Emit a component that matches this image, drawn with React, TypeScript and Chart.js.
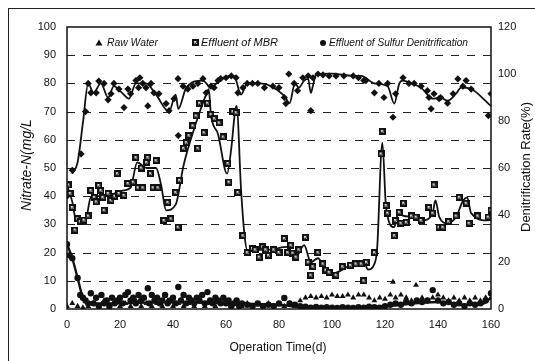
import React, { useEffect, useRef } from "react";
import { Chart, registerables } from "chart.js";

Chart.register(...registerables);

// ---------- data (day, value) ----------
const xTickValues = [0, 20, 40, 60, 80, 100, 120, 140, 160];
const gridValues = [10, 20, 30, 40, 50, 60, 70, 80, 90];

const rawWater: [number, number][] = [
  [0, 1], [2, 2], [4, 1], [6, 0.5], [8, 1], [10, 2], [12, 1], [14, 3], [16, 1], [18, 2], [20, 1], [22, 2],
  [24, 1], [26, 3], [28, 1], [30, 2], [32, 1], [34, 2], [36, 1], [38, 3], [40, 1], [42, 2], [44, 1], [46, 2],
  [48, 1], [50, 3], [52, 1], [54, 2], [56, 1], [58, 2], [60, 3], [62, 1], [64, 2], [66, 1], [68, 2], [70, 1],
  [72, 1.5], [74, 1], [76, 2], [78, 1], [80, 1.5], [82, 1], [84, 2], [86, 1], [88, 3], [90, 4], [92, 4.5],
  [94, 4], [96, 4.5], [98, 4], [100, 5], [102, 4.5], [104, 4.5], [106, 5], [108, 4], [110, 5], [112, 5],
  [114, 4], [116, 3], [118, 4], [120, 3.5], [122, 5], [123, 9.6], [124, 4], [126, 5], [128, 4], [130, 3],
  [131.7, 8.5], [134, 4], [136, 3], [138, 4], [140, 5], [142, 4], [144, 3], [146, 4], [148, 3], [150, 4],
  [152, 3], [154, 4], [156, 3], [158, 4], [160, 4],
];

const mbrEffluent: [number, number][] = [
  [0.5, 44], [1.2, 41], [2, 36], [3, 28], [4, 32], [5, 31], [6.4, 31.5], [8, 33], [9, 42], [10.3, 39.6],
  [11, 38], [12, 43.8], [12.8, 42], [13.5, 39.6], [14, 35], [15.5, 41], [16.6, 38.5], [18, 40], [19, 48],
  [19.6, 41], [21.5, 40.3], [23, 44.5], [25, 45], [26, 53.7], [26.8, 43], [28, 50], [28.6, 43], [30, 52],
  [30.5, 53.7], [31.5, 48], [32.5, 43], [33.6, 52.6], [34.3, 43], [36.6, 31.4], [38, 37.8], [39.2, 32],
  [41, 41.3], [41.9, 29], [42.5, 45.6], [44, 57], [45, 59], [46, 61.5], [47.5, 65], [48.7, 68.5],
  [49.4, 57], [50, 73], [51.7, 62.5], [53, 73], [54.3, 69], [55.6, 67.5], [57.4, 66], [58.9, 61],
  [60.7, 51.6], [61.1, 45], [62.6, 70], [63.8, 69.6], [64.5, 41.3], [66.4, 26], [68, 20], [70, 21.5],
  [71, 21], [72.5, 18.4], [73.8, 22], [75, 21], [76, 19], [78, 21], [80, 20], [82, 25], [83.3, 20],
  [84.5, 22.6], [85.2, 19.8], [86.4, 18.4], [87.5, 21], [90, 25.4], [91, 16.6], [92, 12], [92.8, 15],
  [94.7, 20], [96.6, 16], [97.7, 13.8], [98.9, 13], [101.5, 12], [104, 15], [107, 15.5], [109, 16],
  [111, 16], [112, 10], [113, 16.6], [116, 20], [118.5, 55], [119, 63], [120.4, 36.7], [121, 34],
  [123.5, 26], [124, 31.4], [125.4, 34.3], [126, 30.4], [127, 37.5], [128, 30.7], [130, 33], [131.7, 32.6],
  [133.6, 31.4], [136.6, 36], [138, 34], [138.5, 44], [140.4, 29], [141.8, 29], [144, 31], [146.8, 33],
  [148, 39.6], [150.6, 37.5], [151.7, 30.4], [155, 33], [158.9, 32.6], [160, 35],
];

const mbrTrend: [number, number][] = [
  [0, 44], [2, 38], [3.4, 31.4], [5, 31], [7, 31.5], [9, 39.6], [12, 40], [15, 40], [18, 41], [21, 42],
  [24, 43], [26.5, 52], [30, 50], [33.6, 50], [35.5, 44], [37.4, 35], [41, 37], [44, 51], [47, 61],
  [50.5, 71], [52.5, 76], [53.5, 78], [54.3, 69], [57, 62], [60.4, 48], [62, 57], [63.4, 70], [64, 72],
  [65.7, 42], [67, 26], [68, 21], [73, 21], [76, 21], [83, 22], [86, 18], [89.5, 22.6], [92, 16.6],
  [94.7, 18], [97, 15], [100.7, 12.7], [106, 15], [112, 16.6], [113.6, 14], [116, 16], [117, 21], [119, 59],
  [120.4, 36], [123.5, 29], [125, 34], [127, 33], [131, 32.6], [134, 31.4], [138, 34], [139, 38.5],
  [140.5, 32.6], [143.6, 30.4], [146.8, 32.6], [149.5, 38.5], [151, 39.6], [152.5, 34], [159, 31.4], [160, 35],
];

const sulfurEffluent: [number, number][] = [
  [0, 23], [1, 19], [2, 18], [4, 11], [5, 5], [6, 4], [7, 3], [8, 2], [9, 5.6], [10, 2], [11, 4], [12, 1],
  [13, 5], [14, 2], [15, 3], [16, 1], [17, 4], [18, 2], [19, 3], [20, 4], [21, 2], [22, 5], [23, 6], [24, 3],
  [25, 4], [26, 2], [27, 5], [28, 3], [29, 4], [30.5, 7.4], [31, 2], [32, 5], [33, 3], [34, 4], [35, 2],
  [36, 3], [37, 5], [38, 2], [39, 3], [40, 4], [41, 2], [42, 7.8], [43, 3], [44, 5], [45, 2], [46, 4],
  [47, 3], [48, 2], [49, 4], [50, 3], [51, 5], [52, 2], [53, 6], [54, 3], [55, 2], [56, 4], [57, 3],
  [58, 2], [59, 4], [60, 2], [61, 3], [62, 1], [63, 2], [64, 3], [65, 1], [66, 2], [68, 1.5], [70, 1],
  [72, 2], [74, 1], [76, 1.5], [78, 1], [80, 2], [82, 3.9], [84, 2], [86, 1.5], [88, 1], [90, 0.8],
  [92, 0.5], [94, 0.7], [96, 0.5], [98, 0.6], [100, 0.5], [102, 0.4], [104, 0.6], [106, 0.5], [108, 0.4],
  [110, 0.6], [112, 0.5], [114, 0.8], [116, 0.6], [118, 0.5], [120, 1], [122, 1.5], [124, 2], [126, 1.5],
  [128, 2.5], [130, 2], [132, 3], [134, 2.5], [136, 3], [138, 6.7], [140, 3], [142, 2], [144, 2.5],
  [146, 1.5], [148, 2], [150, 1], [152, 2], [154, 1.5], [156, 2], [158, 3], [160, 5.6],
];

const sulfurTrend: [number, number][] = [
  [0, 23], [2, 18], [4, 11], [6, 4], [8, 2], [20, 2], [40, 2.5], [60, 2], [80, 1.5], [90, 0.5],
  [110, 0.5], [120, 1], [140, 2.5], [150, 1.5], [156, 1.5], [160, 4],
];

// denitrification rate (%), right axis
const denitRate: [number, number][] = [
  [0, 48], [2, 59], [5.3, 66], [7, 84], [8, 96], [9, 92], [11, 92], [12, 97], [14, 96], [15.5, 89],
  [16.6, 91.6], [17.7, 96], [19.6, 93.6], [21.5, 85.7], [23, 93.6], [24, 91.6], [26, 97.2], [27, 94.2],
  [27.5, 98.4], [28.6, 96], [29.8, 94.2], [30.5, 86.4], [31.7, 96], [32.8, 92], [34.7, 91.6], [37.4, 87.4],
  [38.5, 84.4], [40.4, 89.5], [41.9, 98], [42, 73.8], [43.8, 94.8], [45.6, 93.6], [47.5, 94.8], [49.4, 96],
  [51.3, 98], [52.5, 92], [54.3, 94.8], [55.5, 94.2], [57, 97.2], [58, 98], [60, 98.4], [62, 99.2],
  [63.8, 98.4], [64.5, 92], [66.4, 94.2], [68, 96], [70, 96], [72, 96], [74.5, 94.2], [77.7, 94.8],
  [80, 94.2], [82, 90], [82.6, 87.4], [83.7, 100], [85.7, 96], [87, 92.9], [89, 98.4], [91, 99.2],
  [92, 84.4], [92.8, 98.4], [94.7, 100], [96.6, 99.6], [98.9, 99.2], [101.5, 99.2], [104.5, 99.2],
  [108, 99.2], [110, 98.4], [112, 97.2], [112.8, 97.2], [116, 92], [117.7, 96], [119.6, 90], [121, 96],
  [123, 81.6], [124, 91.6], [126.8, 98.4], [129, 96], [131, 96], [133.6, 94.8], [136, 92.9], [136.6, 90],
  [137.4, 85.2], [138.5, 91.6], [140.4, 89.5], [141, 90], [143.6, 87.6], [145.7, 91.6], [147.5, 97.9],
  [149.4, 94.8], [150.6, 97.2], [152.5, 93.6], [159, 82.3], [160, 91.6],
];

const denitTrend: [number, number][] = [
  [2, 57.6], [4, 62.4], [6, 79.2], [8, 96], [10, 92], [12.8, 96], [15.5, 90], [17.7, 94.8], [20.4, 92.4],
  [23.4, 89.5], [26, 96], [29.8, 96], [33.6, 91.2], [38.5, 84], [41, 91.2], [42, 85.2], [45, 94.2],
  [51.3, 97.2], [54.3, 94.2], [58, 97.9], [63, 99.2], [65.7, 91.2], [68, 96], [73, 96], [82, 90.7],
  [84, 87.6], [86, 96], [87.5, 94.2], [89.5, 97.2], [91, 97.9], [92, 92], [93, 96], [94, 100], [100, 100.2],
  [108, 99.2], [111, 99.2], [116, 96], [121, 94.8], [123.5, 87.4], [125.4, 96], [126.8, 97.2], [130, 96],
  [133.6, 94.2], [138, 89.5], [141, 90], [143.6, 88.6], [146.8, 91.6], [148.7, 94.2], [152.5, 93.6],
  [159, 87.4], [160, 86.4],
];

const legendLabels = ["Raw Water", "Effluent of MBR", "Effluent of Sulfur Denitrification"];
const xTitle = "Operation Time(d)";
const yTitle = "Nitrate-N(mg/L";
const y2Title = "Denitrification Rate(%)";

const FONT = "'Liberation Sans', Arial, sans-serif";

const toXY = (arr: [number, number][]) => arr.map(([x, y]) => ({ x, y }));

function makeMbrMarker(): HTMLCanvasElement {
  const c = document.createElement("canvas");
  c.width = 7;
  c.height = 7;
  const g = c.getContext("2d")!;
  g.fillStyle = "#111";
  g.fillRect(0, 0, 7, 7);
  g.fillStyle = "#ddd";
  g.fillRect(2, 2, 3, 3);
  g.strokeStyle = "#222";
  g.lineWidth = 1;
  g.beginPath();
  g.moveTo(2, 3.5);
  g.lineTo(3.5, 5);
  g.lineTo(5, 2);
  g.stroke();
  return c;
}

export default function App() {
  const ref = useRef<HTMLCanvasElement>(null);

  useEffect(() => {
    document.documentElement.style.overflow = "hidden";
    const canvas = ref.current!;
    const mbrMarker = makeMbrMarker();

    const grid = {
      id: "dashGrid",
      beforeDatasetsDraw(chart: any) {
        const { ctx, chartArea: a } = chart;
        const ys = chart.scales.y;
        ctx.save();
        ctx.strokeStyle = "#222";
        ctx.lineWidth = 1;
        ctx.setLineDash([8, 8]);
        for (const v of gridValues) {
          const py = Math.round(ys.getPixelForValue(v)) + 0.5;
          ctx.beginPath();
          ctx.moveTo(a.left, py);
          ctx.lineTo(a.right, py);
          ctx.stroke();
        }
        ctx.restore();
      },
    };

    const decor = {
      id: "decor",
      afterDraw(chart: any) {
        const { ctx, chartArea: a } = chart;
        ctx.save();
        // plot frame
        ctx.strokeStyle = "#111";
        ctx.lineWidth = 1.5;
        ctx.strokeRect(a.left, a.top, a.right - a.left, a.bottom - a.top);

        ctx.fillStyle = "#111";
        // legend
        const ly = a.top + 16;
        ctx.font = `italic 11px ${FONT}`;
        ctx.textBaseline = "middle";
        ctx.textAlign = "left";
        const tx = a.left + 32;
        ctx.beginPath();
        ctx.moveTo(tx, ly - 3.5);
        ctx.lineTo(tx + 3.5, ly + 2.5);
        ctx.lineTo(tx - 3.5, ly + 2.5);
        ctx.closePath();
        ctx.fill();
        ctx.fillText(legendLabels[0], a.left + 40, ly, 51);
        ctx.drawImage(mbrMarker, a.left + 125, ly - 4, 7, 7);
        ctx.fillText(legendLabels[1], a.left + 134, ly, 77);
        ctx.beginPath();
        ctx.arc(a.left + 256, ly, 3, 0, Math.PI * 2);
        ctx.fill();
        ctx.fillText(legendLabels[2], a.left + 262, ly, 139);

        // axis titles
        ctx.textAlign = "center";
        ctx.font = `12px ${FONT}`;
        ctx.fillText(xTitle, (a.left + a.right) / 2 - 1, a.bottom + 39, 102);

        ctx.save();
        ctx.translate(18, 156);
        ctx.rotate(-Math.PI / 2);
        ctx.font = `italic 14px ${FONT}`;
        ctx.fillText(yTitle, 0, 0, 98);
        ctx.restore();

        ctx.save();
        ctx.translate(517, 158);
        ctx.rotate(-Math.PI / 2);
        ctx.font = `13px ${FONT}`;
        ctx.fillText(y2Title, 0, 0, 130);
        ctx.restore();

        ctx.restore();
      },
    };

    const chart = new Chart(canvas, {
      type: "scatter",
      data: {
        datasets: [
          {
            label: legendLabels[0],
            data: toXY(rawWater),
            pointStyle: "triangle",
            pointRadius: 3.4,
            backgroundColor: "#111",
            borderColor: "#111",
            borderWidth: 0,
            yAxisID: "y",
          },
          {
            label: legendLabels[2],
            data: toXY(sulfurEffluent),
            pointStyle: "circle",
            pointRadius: 3.2,
            backgroundColor: "#111",
            borderColor: "#111",
            borderWidth: 0,
            yAxisID: "y",
          },
          {
            label: legendLabels[1],
            data: toXY(mbrEffluent),
            pointStyle: mbrMarker as any,
            pointRadius: 3.5,
            yAxisID: "y",
          },
          {
            label: "rate",
            data: toXY(denitRate),
            pointStyle: "rectRot",
            pointRadius: 3.6,
            backgroundColor: "#111",
            borderColor: "#111",
            borderWidth: 0,
            yAxisID: "y1",
          },
          {
            label: "mbrTrend",
            data: toXY(mbrTrend),
            showLine: true,
            pointRadius: 0,
            borderColor: "#111",
            borderWidth: 1.8,
            cubicInterpolationMode: "monotone",
            yAxisID: "y",
          } as any,
          {
            label: "sulfurTrend",
            data: toXY(sulfurTrend),
            showLine: true,
            pointRadius: 0,
            borderColor: "#111",
            borderWidth: 2.4,
            cubicInterpolationMode: "monotone",
            yAxisID: "y",
          } as any,
          {
            label: "rateTrend",
            data: toXY(denitTrend),
            showLine: true,
            pointRadius: 0,
            borderColor: "#111",
            borderWidth: 1.8,
            cubicInterpolationMode: "monotone",
            yAxisID: "y1",
          } as any,
        ],
      },
      options: {
        responsive: false,
        animation: false,
        layout: { padding: { top: 18, left: 0, right: 0, bottom: 0 } },
        plugins: { legend: { display: false }, tooltip: { enabled: false } },
        scales: {
          x: {
            type: "linear",
            min: 0,
            max: 160,
            afterBuildTicks: (s: any) => {
              s.ticks = xTickValues.map((v) => ({ value: v }));
            },
            ticks: { padding: 9, color: "#111", font: { family: FONT, size: 11 }, maxRotation: 0 },
            grid: { display: false, drawTicks: false },
            border: { display: false },
            afterFit: (s: any) => {
              s.height = 52;
            },
          },
          y: {
            position: "left",
            min: 0,
            max: 100,
            ticks: { stepSize: 10, padding: 11, color: "#111", font: { family: FONT, size: 11 } },
            grid: { display: false, drawTicks: false },
            border: { display: false },
            afterFit: (s: any) => {
              s.width = 58;
            },
          },
          y1: {
            position: "right",
            min: 0,
            max: 120,
            ticks: { stepSize: 20, padding: 7, color: "#111", font: { family: FONT, size: 11 } },
            grid: { display: false, drawTicks: false },
            border: { display: false },
            afterFit: (s: any) => {
              s.width = 44;
            },
          },
        },
      },
      plugins: [grid, decor],
    } as any);

    return () => chart.destroy();
  }, []);

  return (
    <div
      style={{
        position: "absolute",
        left: 8,
        top: 8,
        width: 527,
        height: 353,
        borderLeft: "1px solid #222",
        borderTop: "1px solid #222",
        boxSizing: "border-box",
        background: "#fff",
      }}
    >
      <canvas ref={ref} width={526} height={352} style={{ display: "block" }} />
    </div>
  );
}
